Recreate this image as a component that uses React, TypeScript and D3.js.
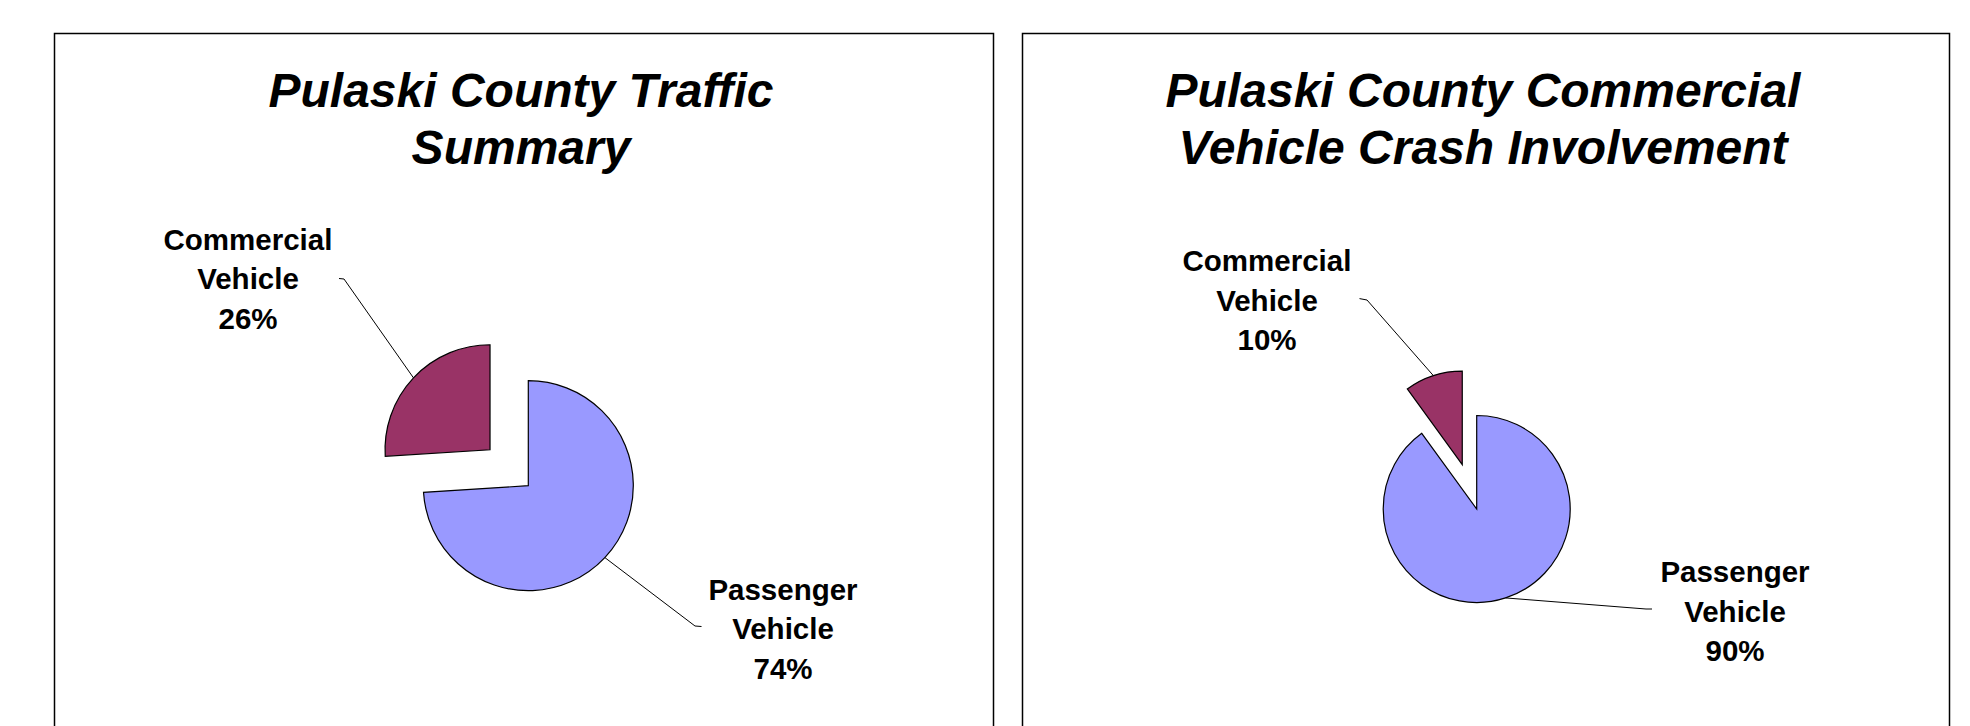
import React from 'react';
import * as d3 from 'd3';

// ---- data ----
const categories = ['Passenger Vehicle', 'Commercial Vehicle'];
const trafficShares = [74, 26];
const crashShares = [90, 10];
const trafficTitle = ['Pulaski County Traffic', 'Summary'];
const crashTitle = ['Pulaski County Commercial', 'Vehicle Crash Involvement'];
const sliceColors = ['#9999FF', '#993366'];
const explodedCategory = 'Commercial Vehicle';

type LabelLayout = { cx: number; y0: number; elbow: [number, number]; end: [number, number] };

type PanelProps = {
  x: number;
  width: number;
  title: string[];
  titleX: number;
  values: number[];
  cx: number;
  cy: number;
  r: number;
  explode: number;
  labels: LabelLayout[];
};

const FONT = '"Liberation Sans", Arial, Helvetica, sans-serif';

function Panel(p: PanelProps) {
  const data = categories.map((c, i) => ({ cat: c, value: p.values[i] }));
  const pie = d3
    .pie<{ cat: string; value: number }>()
    .sort(null)
    .value((d) => d.value)
    .startAngle(0)
    .endAngle(2 * Math.PI);
  const arcs = pie(data);
  const arcGen = d3.arc<d3.PieArcDatum<{ cat: string; value: number }>>().innerRadius(0).outerRadius(p.r);
  const total = d3.sum(p.values);

  return (
    <g>
      <rect x={p.x + 0.5} y={33.5} width={p.width} height={720} fill="#fff" stroke="#000" strokeWidth={1.5} />
      {p.title.map((t, i) => (
        <text
          key={i}
          x={p.titleX}
          y={106.5 + i * 57}
          textAnchor="middle"
          fontFamily={FONT}
          fontSize={48}
          fontWeight="bold"
          fontStyle="italic"
          fill="#000"
        >
          {t}
        </text>
      ))}
      {arcs.map((a, i) => {
        const mid = (a.startAngle + a.endAngle) / 2;
        const off = a.data.cat === explodedCategory ? p.explode * p.r : 0;
        const ox = p.cx + off * Math.sin(mid);
        const oy = p.cy - off * Math.cos(mid);
        const ax = ox + p.r * Math.sin(mid);
        const ay = oy - p.r * Math.cos(mid);
        const lab = p.labels[i];
        const words = a.data.cat.split(' ');
        const pct = d3.format('.0%')(a.data.value / total);
        return (
          <g key={a.data.cat}>
            <path
              d={arcGen(a) || ''}
              transform={`translate(${ox},${oy})`}
              fill={sliceColors[i]}
              stroke="#000"
              strokeWidth={1.2}
              strokeLinejoin="miter"
            />
            <polyline
              points={`${ax},${ay} ${lab.elbow[0]},${lab.elbow[1]} ${lab.end[0]},${lab.end[1]}`}
              fill="none"
              stroke="#000"
              strokeWidth={1}
            />
            {[...words, pct].map((w, j) => (
              <text
                key={j}
                x={lab.cx}
                y={lab.y0 + j * 39.5}
                textAnchor="middle"
                fontFamily={FONT}
                fontSize={29.5}
                fontWeight="bold"
                fill="#000"
              >
                {w}
              </text>
            ))}
          </g>
        );
      })}
    </g>
  );
}

export default function App() {
  return (
    <svg
      width={1970}
      height={726}
      viewBox="0 0 1970 726"
      style={{ position: 'absolute', left: 0, top: 0, background: '#fff' }}
    >
      <rect x={0} y={0} width={1970} height={726} fill="#fff" />
      <Panel
        x={54}
        width={939}
        title={trafficTitle}
        titleX={521}
        values={trafficShares}
        cx={528.3}
        cy={485.7}
        r={105}
        explode={0.5}
        labels={[
          { cx: 783, y0: 599.5, elbow: [695, 626], end: [701.5, 626.5] },
          { cx: 248, y0: 249.5, elbow: [344, 279], end: [339, 278.5] },
        ]}
      />
      <Panel
        x={1022}
        width={927}
        title={crashTitle}
        titleX={1483}
        values={crashShares}
        cx={1476.7}
        cy={509}
        r={93.5}
        explode={0.5}
        labels={[
          { cx: 1735, y0: 582, elbow: [1646, 609], end: [1652, 609] },
          { cx: 1267, y0: 271, elbow: [1367, 300], end: [1359.5, 298.6] },
        ]}
      />
    </svg>
  );
}
